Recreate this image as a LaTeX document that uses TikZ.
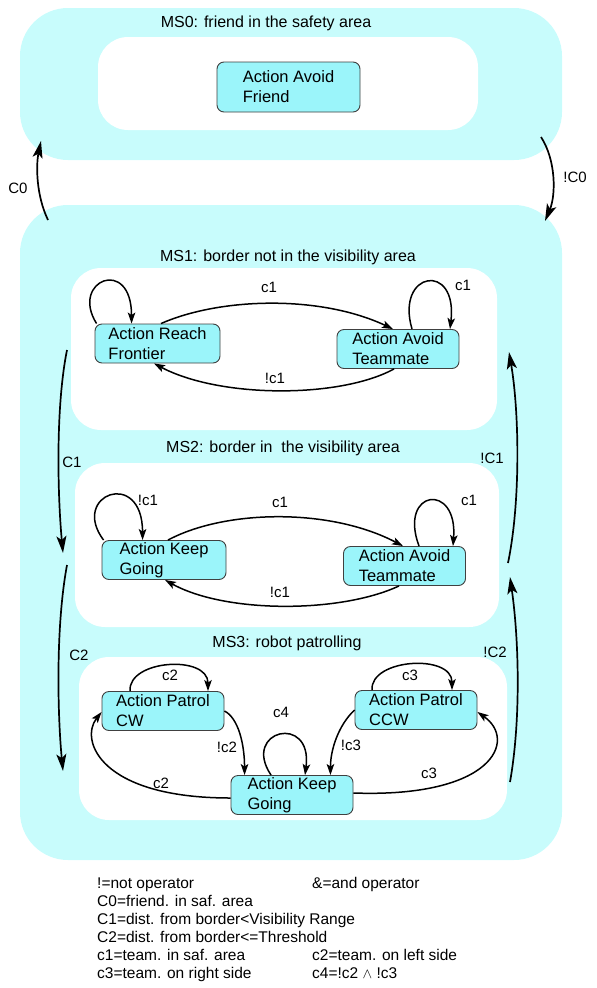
\documentclass[tikz,border=0pt]{standalone}
\usepackage{fontspec}
\setmainfont{Liberation Sans}
\usetikzlibrary{arrows.meta,calc}
\definecolor{bandcyan}{RGB}{200,252,252}
\definecolor{boxcyan}{RGB}{155,245,250}

\begin{document}
\begin{tikzpicture}[x=1pt, y=-1pt,
  band/.style={fill=bandcyan, rounded corners=48pt},
  area/.style={fill=white, rounded corners=30pt},
  action/.style={draw=black!75, fill=boxcyan, rounded corners=7pt, line width=0.9pt,
    align=left, minimum width=122pt, minimum height=39pt, inner xsep=6pt, inner ysep=0pt,
    font=\fontsize{16.5}{20}\selectfont},
  title/.style={font=\fontsize{16}{18}\selectfont, inner sep=0pt},
  lbl/.style={font=\fontsize{15}{17}\selectfont, inner sep=0pt},
  trans/.style={line width=1.5pt, -{Stealth[length=11pt,width=7.5pt,inset=2.5pt]}},
  bigtrans/.style={line width=1.7pt, -{Stealth[length=17pt,width=10pt,inset=4pt]}}]
  \useasboundingbox (0,0) rectangle (597,988);

  % 外层区域
  \fill[band] (20,8) rectangle (562,160);
  \fill[area] (98,37) rectangle (478,130);
  \fill[band] (20,205) rectangle (562,860);
  \fill[area] (71,268) rectangle (497,430);
  \fill[area] (75,463) rectangle (499,627);
  \fill[area] (79,657) rectangle (507,820);

  \node[title] (ms0) at (266,23) {MS0: friend in the safety area};
  \node[title] (ms1) at (288,257) {MS1: border not in the visibility area};
  \node[title] (ms2) at (283,448) {MS2: border in\ \ the visibility area};
  \node[title] (ms3) at (287,643) {MS3: robot patrolling};

  % 动作
  \node[action, minimum width=143pt, minimum height=50pt] (friend) at (288.5,87) {Action Avoid\\Friend};
  \node[action, minimum width=125pt] (reach) at (157.5,343.5) {Action Reach\\Frontier};
  \node[action] (avoidA) at (398,349) {Action Avoid\\Teammate};
  \node[action, minimum width=124pt] (keepA) at (164,560) {Action Keep\\Going};
  \node[action] (avoidB) at (404.5,566) {Action Avoid\\Teammate};
  \node[action] (cw) at (163,711) {Action Patrol\\CW};
  \node[action] (ccw) at (416,710) {Action Patrol\\CCW};
  \node[action] (keepB) at (292,795) {Action Keep\\Going};

  % MS1
  \draw[trans] ($(reach.north west)+(2,0)$) .. controls +(-27,-43) and +(0,-68) .. ($(reach.north west)+(37,0)$);
  \draw[trans] ($(avoidA.north)+(14,0)$) .. controls +(-17,-58) and +(8,-68) .. ($(avoidA.north)+(52,0)$);
  \draw[trans] ($(reach.north)+(3.5,0)$) .. controls +(59,-26) and +(-73,-34.5) .. ($(avoidA.north)+(-5,0)$);
  \draw[trans] ($(avoidA.south)+(-4,0)$) .. controls +(-54,29.5) and +(66,35) .. ($(reach.south)+(-3.5,0)$);
  \node[lbl] (l1) at (269,287) {c1};
  \node[lbl] (l2) at (463,285) {c1};
  \node[lbl] (l3) at (275,378) {!c1};

  % MS2
  \draw[trans] ($(keepA.north west)+(2,0)$) .. controls +(-34,-45.5) and +(0,-72.5) .. ($(keepA.north west)+(41,0)$);
  \draw[trans] ($(avoidB.north)+(14.5,0)$) .. controls +(-21,-56.5) and +(5,-64.5) .. ($(avoidB.north)+(48.5,0)$);
  \draw[trans] ($(keepA.north)+(4,0)$) .. controls +(57,-30.5) and +(-73,-38.5) .. ($(avoidB.north)+(-1.5,0)$);
  \draw[trans] ($(avoidB.south)+(-5.5,0)$) .. controls +(-59,27.5) and +(60,33.5) .. ($(keepA.south)+(1,0)$);
  \node[lbl] (l4) at (148,500) {!c1};
  \node[lbl] (l5) at (280,502) {c1};
  \node[lbl] (l6) at (469,500) {c1};
  \node[lbl] (l7) at (280,592) {!c1};

  % MS3
  \draw[trans] ($(cw.north)+(-33,0)$) .. controls +(-2,-31.5) and +(0,-36.5) .. ($(cw.north)+(45,0)$);
  \draw[trans] ($(ccw.north)+(-44,0)$) .. controls +(-2,-31.5) and +(0,-36.5) .. ($(ccw.north)+(36,0)$);
  \draw[trans] ($(keepB.north)+(-21,0)$) .. controls +(-30,-45) and +(8,-62) .. ($(keepB.north)+(13,0)$);
  \draw[trans] (cw.east) .. controls +(14,7) and +(0,-30.5) .. ($(keepB.north west)+(14,0)$);
  \draw[trans] (ccw.west) .. controls +(-16,15) and +(0,-25.5) .. ($(keepB.north east)+(-23,0)$);
  \draw[trans] ($(keepB.west)+(0,3)$) .. controls +(-131,0) and +(-22,28) .. ($(cw.west)+(0,1)$);
  \draw[trans] ($(keepB.east)+(0,-2)$) .. controls +(140,5) and +(40,28) .. ($(ccw.east)+(0,2)$);
  \node[lbl] (l8) at (170,675) {c2};
  \node[lbl] (l9) at (410,675) {c3};
  \node[lbl] (l10) at (281,712) {c4};
  \node[lbl] (l11) at (227,747) {!c2};
  \node[lbl] (l12) at (351,745) {!c3};
  \node[lbl] (l13) at (161,783) {c2};
  \node[lbl] (l14) at (429,773) {c3};

  % 区域之间
  \coordinate (c0a) at (48,220);   \coordinate (c0b) at (41,141);
  \coordinate (nc0a) at (541,137); \coordinate (nc0b) at (545,221);
  \coordinate (c1a) at (67,350);   \coordinate (c1b) at (63,553);
  \coordinate (c2a) at (67,565);   \coordinate (c2b) at (63,771);
  \coordinate (nc1a) at (508,563); \coordinate (nc1b) at (509,352);
  \coordinate (nc2a) at (510,782); \coordinate (nc2b) at (510,577);
  \draw[bigtrans] (c0a) .. controls +(-12,-25) and +(-5,24) .. (c0b);
  \draw[bigtrans] (nc0a) .. controls +(15,23) and +(11,-26) .. (nc0b);
  \draw[bigtrans] (c1a) .. controls +(-12,60) and +(-5,-53) .. (c1b);
  \draw[bigtrans] (c2a) .. controls +(-12,65) and +(-5,-51) .. (c2b);
  \draw[bigtrans] (nc1a) .. controls +(13,-63) and +(10,58) .. (nc1b);
  \draw[bigtrans] (nc2a) .. controls +(11,-62) and +(9,63) .. (nc2b);
  \node[lbl] (lc0) at (18,188) {C0};
  \node[lbl] (lnc0) at (575,177) {!C0};
  \node[lbl] (lc1) at (72,462) {C1};
  \node[lbl] (lnc1) at (492,458) {!C1};
  \node[lbl] (lc2) at (79,655) {C2};
  \node[lbl] (lnc2) at (495,652) {!C2};

  % 图例
  \node[anchor=north west, align=left, inner sep=0pt, font=\fontsize{15.5}{18}\selectfont] (key) at (97,877)
    {\makebox[215pt][l]{!=not operator}\&=and operator\\
     C0=friend. in saf. area\\
     C1=dist. from border<Visibility Range\\
     C2=dist. from border<=Threshold\\
     \makebox[215pt][l]{c1=team. in saf. area}c2=team. on left side\\
     \makebox[215pt][l]{c3=team. on right side}c4=!c2 $\wedge$ !c3};
\end{tikzpicture}
\end{document}
